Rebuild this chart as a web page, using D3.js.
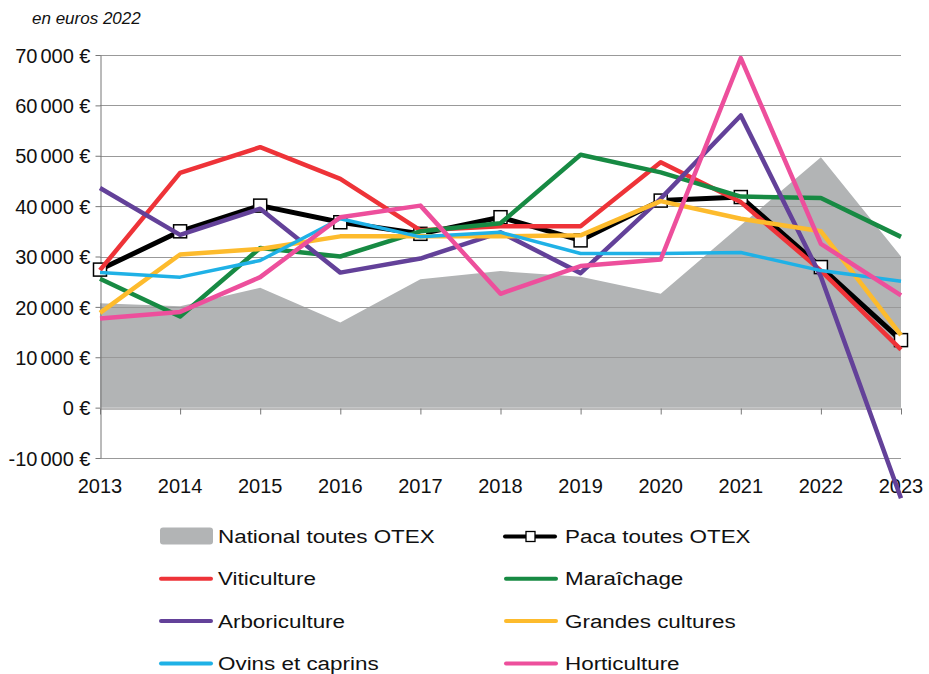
<!DOCTYPE html>
<html>
<head>
<meta charset="utf-8">
<script src="https://cdn.jsdelivr.net/npm/d3@7"></script>
<style>
  html, body { margin: 0; padding: 0; background: #fff; }
  svg { display: block; font-family: "Liberation Sans", Arial, sans-serif; }
</style>
</head>
<body>
<svg id="chart" width="929" height="674"></svg>
<script>
// Revenu par exploitation, en euros 2022
const years = [2013, 2014, 2015, 2016, 2017, 2018, 2019, 2020, 2021, 2022, 2023];
const yTicks = [-10000, 0, 10000, 20000, 30000, 40000, 50000, 60000, 70000];

const nationalToutesOtex = [20700, 20100, 23800, 16900, 25500, 27100, 26000, 22600, 36200, 49700, 30000];
const pacaToutesOtex     = [27400, 35000, 40100, 36800, 34500, 37800, 33200, 41100, 41800, 27900, 13400];
const viticulture        = [27300, 46600, 51700, 45400, 35200, 36000, 36000, 48700, 40800, 27200, 11500];
const maraichage         = [25600, 18100, 31700, 30000, 35000, 36600, 50200, 46700, 41900, 41600, 33900];
const arboriculture      = [43600, 34300, 39500, 26800, 29600, 34800, 26700, 41500, 58000, 26000, -18000];
const grandesCultures    = [18800, 30400, 31500, 34000, 34000, 34000, 34200, 41000, 37500, 35000, 14400];
const ovinsEtCaprins     = [26800, 25900, 29200, 37500, 33900, 34800, 30600, 30600, 30800, 27200, 25100];
const horticulture       = [17700, 19000, 25900, 37800, 40100, 22600, 28100, 29400, 69400, 32500, 22300];

const lineSeries = [
  { name: "Viticulture",       values: viticulture,     color: "#ee3338", width: 4.5 },
  { name: "Maraîchage",        values: maraichage,      color: "#178a43", width: 4.5 },
  { name: "Arboriculture",     values: arboriculture,   color: "#634199", width: 4.5 },
  { name: "Grandes cultures",  values: grandesCultures, color: "#fdbb2d", width: 4.5 },
  { name: "Ovins et caprins",  values: ovinsEtCaprins,  color: "#1fb1e6", width: 3.5 },
  { name: "Horticulture",      values: horticulture,    color: "#ed4f9c", width: 4.5 }
];

const svg = d3.select("#chart");

const x = d3.scaleLinear().domain([2013, 2023]).range([100, 901]);
const y = d3.scaleLinear().domain([-10000, 70000]).range([458, 55]);

// Sous-titre
svg.append("text")
  .attr("x", 32).attr("y", 24)
  .attr("font-size", 17).attr("font-style", "italic")
  .attr("fill", "#111")
  .text("en euros 2022");

// Surface nationale
const area = d3.area()
  .x((d, i) => x(years[i]))
  .y0(y(0))
  .y1(d => y(d));
svg.append("path")
  .datum(nationalToutesOtex)
  .attr("d", area)
  .attr("fill", "#b2b4b5");

// Quadrillage horizontal
svg.append("g")
  .selectAll("line")
  .data(yTicks.filter(t => t !== 0))
  .join("line")
  .attr("x1", x(2013)).attr("x2", x(2023))
  .attr("y1", d => Math.round(y(d)) + 0.5)
  .attr("y2", d => Math.round(y(d)) + 0.5)
  .attr("stroke", "#999")
  .attr("stroke-width", 1);

// Axe vertical
const fmt = v => {
  if (v === 0) return ["0", ""];
  const s = String(Math.abs(v));
  const head = (v < 0 ? "-" : "") + s.slice(0, s.length - 3);
  return [head, s.slice(-3)];
};
const yAxis = d3.axisLeft(y)
  .tickValues(yTicks)
  .tickSize(5)
  .tickSizeOuter(0)
  .tickFormat(() => "");
const yAxisG = svg.append("g")
  .attr("transform", "translate(100.5,0)")
  .call(yAxis);
yAxisG.select(".domain").attr("stroke", "#777");
yAxisG.selectAll(".tick line").attr("stroke", "#777");
yAxisG.selectAll(".tick").each(function(d) {
  const parts = fmt(d);
  const t = d3.select(this).append("text")
    .attr("x", -10).attr("dy", "0.36em")
    .attr("text-anchor", "end")
    .attr("font-size", 20)
    .attr("fill", "#111");
  t.append("tspan").text(parts[0]);
  if (parts[1]) t.append("tspan").attr("dx", 3).text(parts[1]);
  t.append("tspan").text(" €");
});

// Axe horizontal sur la valeur zéro
const xAxis = d3.axisBottom(x)
  .tickValues(years)
  .tickSize(6)
  .tickSizeOuter(0)
  .tickFormat(() => "");
const xAxisG = svg.append("g")
  .attr("transform", `translate(0,${Math.round(y(0)) + 0.5})`)
  .call(xAxis);
xAxisG.select(".domain").attr("stroke", "#777");
xAxisG.selectAll(".tick line").attr("stroke", "#777");

// Étiquettes des années
svg.append("g")
  .selectAll("text")
  .data(years)
  .join("text")
  .attr("x", d => x(d))
  .attr("y", 493)
  .attr("text-anchor", "middle")
  .attr("font-size", 20)
  .attr("fill", "#111")
  .text(d => d);

const line = d3.line()
  .x((d, i) => x(years[i]))
  .y(d => y(d));

// Paca toutes OTEX
svg.append("path")
  .datum(pacaToutesOtex)
  .attr("d", line)
  .attr("fill", "none")
  .attr("stroke", "#000")
  .attr("stroke-width", 5)
  .attr("stroke-linejoin", "round");
svg.append("g")
  .selectAll("rect")
  .data(pacaToutesOtex)
  .join("rect")
  .attr("x", (d, i) => x(years[i]) - 6.5)
  .attr("y", d => y(d) - 6.5)
  .attr("width", 13).attr("height", 13)
  .attr("fill", "#fff")
  .attr("stroke", "#000")
  .attr("stroke-width", 1.5);

// Séries par orientation
svg.append("g")
  .selectAll("path")
  .data(lineSeries)
  .join("path")
  .attr("d", s => line(s.values))
  .attr("fill", "none")
  .attr("stroke", s => s.color)
  .attr("stroke-width", s => s.width)
  .attr("stroke-linejoin", "round");

// Légende
const legendItems = [
  { name: "National toutes OTEX", kind: "area", color: "#b2b4b5" },
  { name: "Paca toutes OTEX", kind: "marker", color: "#000" },
  ...lineSeries.map(s => ({ name: s.name, kind: "line", color: s.color }))
];
const legend = svg.append("g");
legendItems.forEach((item, i) => {
  const col = i % 2, row = Math.floor(i / 2);
  const sx = col === 0 ? 160 : 505;
  const cy = 536.5 + row * 42.3;
  const g = legend.append("g");
  if (item.kind === "area") {
    g.append("rect")
      .attr("x", sx).attr("y", cy - 9)
      .attr("width", 53).attr("height", 17)
      .attr("rx", 3)
      .attr("fill", item.color);
  } else if (item.kind === "marker") {
    g.append("line")
      .attr("x1", sx).attr("x2", sx + 50)
      .attr("y1", cy).attr("y2", cy)
      .attr("stroke", "#000").attr("stroke-width", 4)
      .attr("stroke-linecap", "round");
    g.append("rect")
      .attr("x", sx + 21).attr("y", cy - 5)
      .attr("width", 9).attr("height", 10)
      .attr("fill", "#fff").attr("stroke", "#000").attr("stroke-width", 1.3);
  } else {
    g.append("line")
      .attr("x1", sx + 1).attr("x2", sx + 51)
      .attr("y1", cy).attr("y2", cy)
      .attr("stroke", item.color).attr("stroke-width", 4)
      .attr("stroke-linecap", "round");
  }
  g.append("text")
    .attr("transform", `translate(${col === 0 ? 218 : 565},${cy + 6.5}) scale(1.18,1)`)
    .attr("font-size", 19)
    .attr("fill", "#111")
    .text(item.name);
});
</script>
</body>
</html>
